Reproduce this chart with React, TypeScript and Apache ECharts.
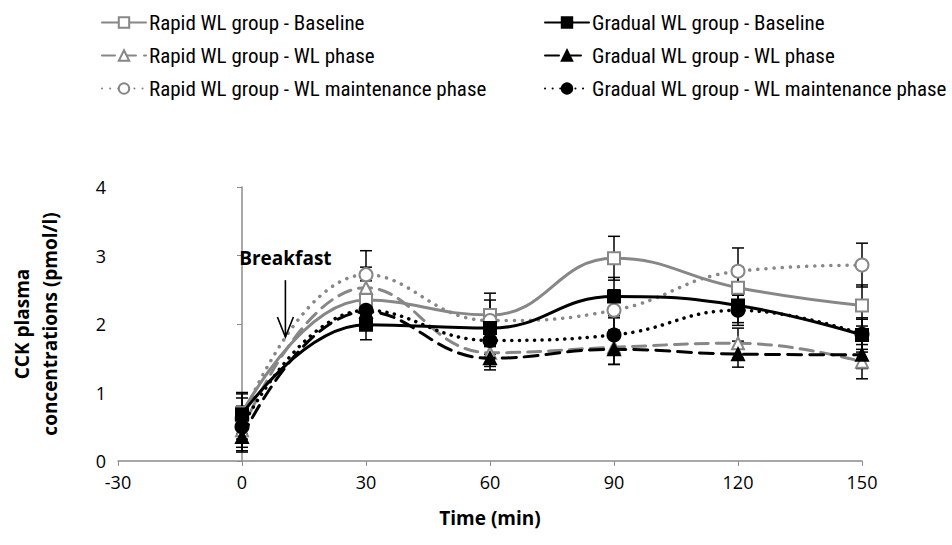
import React, { useEffect, useRef } from "react";
import * as echarts from "echarts";

const times = [0, 30, 60, 90, 120, 150];
const xTicks = [-30, 0, 30, 60, 90, 120, 150];
const yTicks = [0, 1, 2, 3, 4];

const rapidBaseline = [0.7, 2.35, 2.13, 2.96, 2.53, 2.27];
const rapidWL = [0.45, 2.53, 1.58, 1.66, 1.72, 1.45];
const rapidMaint = [0.62, 2.72, 2.05, 2.2, 2.77, 2.86];
const gradualBaseline = [0.68, 1.99, 1.94, 2.4, 2.27, 1.84];
const gradualWL = [0.35, 2.18, 1.5, 1.63, 1.56, 1.55];
const gradualMaint = [0.5, 2.2, 1.76, 1.84, 2.2, 1.85];

const errRapidBaseline = [0.3, 0.28, 0.32, 0.32, 0.3, 0.3];
const errRapidWL = [0.3, 0.3, 0.2, 0.25, 0.22, 0.25];
const errRapidMaint = [0.3, 0.35, 0.3, 0.3, 0.34, 0.32];
const errGradualBaseline = [0.3, 0.22, 0.25, 0.28, 0.25, 0.25];
const errGradualWL = [0.22, 0.25, 0.17, 0.22, 0.19, 0.2];
const errGradualMaint = [0.3, 0.25, 0.2, 0.25, 0.22, 0.22];

const seriesNames = [
  "Rapid WL group - Baseline",
  "Rapid WL group - WL phase",
  "Rapid WL group - WL maintenance phase",
  "Gradual WL group - Baseline",
  "Gradual WL group - WL phase",
  "Gradual WL group - WL maintenance phase",
];

const breakfast = { time: 10.5, label: "Breakfast", labelY: 2.96, arrowTop: 2.64, arrowBottom: 1.81 };

const GRAY = "#878787";
const BLACK = "#000000";
const FONT = "'Liberation Sans Narrow', 'Roboto Condensed', 'Liberation Sans', sans-serif";
const AXFONT = "'Open Sans', 'Noto Sans', sans-serif";

export default function App() {
  const ref = useRef<HTMLDivElement>(null);
  useEffect(() => {
    if (!ref.current) return;
    const chart = echarts.init(ref.current, undefined, { renderer: "svg" });

    const values = [rapidBaseline, rapidWL, rapidMaint, gradualBaseline, gradualWL, gradualMaint];
    const errs = [errRapidBaseline, errRapidWL, errRapidMaint, errGradualBaseline, errGradualWL, errGradualMaint];
    const errData: number[][] = [];
    values.forEach((vals, si) => {
      vals.forEach((v, i) => {
        errData.push([times[i], v - errs[si][i], v + errs[si][i]]);
      });
    });

    const styles = [
      { color: GRAY, type: "solid", symbol: "rect", fill: "#fff" },
      { color: GRAY, type: [13, 8], symbol: "triangle", fill: "#fff" },
      { color: GRAY, type: [0.1, 8], symbol: "circle", fill: "#fff" },
      { color: BLACK, type: "solid", symbol: "rect", fill: BLACK },
      { color: BLACK, type: [14, 8], symbol: "triangle", fill: BLACK },
      { color: BLACK, type: [0.1, 7.5], symbol: "circle", fill: BLACK },
    ];

    const lineSeries = values.map((vals, si) => ({
      name: seriesNames[si],
      type: "line",
      smooth: 0.45,
      data: vals.map((v, i) => [times[i], v]),
      symbol: styles[si].symbol,
      symbolSize: si === 2 || si === 5 ? 13 : 12,
      showSymbol: true,
      z: 3 + (si < 3 ? 0 : 1),
      lineStyle: {
        color: styles[si].color,
        width: si === 2 || si === 5 ? 3.5 : 3,
        type: styles[si].type as any,
        cap: "round",
      },
      itemStyle: {
        color: styles[si].fill,
        borderColor: styles[si].color,
        borderWidth: 2,
      },
    }));

    const legendCommon = {
      orient: "vertical",
      top: 7,
      itemGap: 12,
      itemWidth: 44,
      itemHeight: 13,
      textStyle: { fontFamily: FONT, fontSize: 21, color: "#000", padding: [0, 0, 0, -2] },
      selectedMode: false,
    };

    chart.setOption({
      animation: false,
      backgroundColor: "#fff",
      grid: { left: 118, right: 90, top: 187, bottom: 84 },
      legend: [
        { ...legendCommon, data: seriesNames.slice(0, 3), left: 96 },
        { ...legendCommon, data: seriesNames.slice(3), left: 539 },
      ],
      xAxis: {
        type: "value",
        min: xTicks[0],
        max: xTicks[xTicks.length - 1],
        interval: 30,
        name: "Time (min)",
        nameLocation: "middle",
        nameGap: 47,
        nameTextStyle: { fontFamily: AXFONT, fontSize: 19, fontWeight: "bold", color: "#000" },
        axisLine: { lineStyle: { color: "#8c8c8c", width: 1.5 } },
        axisTick: { show: true, length: 5, lineStyle: { color: "#8c8c8c" } },
        axisLabel: { fontFamily: AXFONT, fontSize: 18, color: "#000", margin: 12 },
        splitLine: { show: false },
      },
      yAxis: {
        type: "value",
        min: yTicks[0],
        max: yTicks[yTicks.length - 1],
        interval: 1,
        name: "CCK plasma\nconcentrations (pmol/l)",
        nameLocation: "middle",
        nameGap: 54,
        nameTextStyle: { fontFamily: AXFONT, fontSize: 19, fontWeight: "bold", color: "#000", lineHeight: 28 },
        axisLine: { show: true, lineStyle: { color: "#8c8c8c", width: 1.5 } },
        axisTick: { show: true, length: 5, lineStyle: { color: "#8c8c8c" } },
        axisLabel: { fontFamily: AXFONT, fontSize: 18, color: "#000", margin: 12 },
        splitLine: { show: false },
      },
      series: [
        {
          type: "custom",
          name: "errors",
          z: 2,
          silent: true,
          data: errData,
          encode: { x: 0, y: [1, 2] },
          renderItem: (params: any, api: any) => {
            const x = api.value(0);
            const lo = api.coord([x, api.value(1)]);
            const hi = api.coord([x, api.value(2)]);
            const hw = 6;
            const st = { stroke: "#000", lineWidth: 1.5 };
            return {
              type: "group",
              children: [
                { type: "line", shape: { x1: lo[0], y1: lo[1], x2: hi[0], y2: hi[1] }, style: st },
                { type: "line", shape: { x1: lo[0] - hw, y1: lo[1], x2: lo[0] + hw, y2: lo[1] }, style: st },
                { type: "line", shape: { x1: hi[0] - hw, y1: hi[1], x2: hi[0] + hw, y2: hi[1] }, style: st },
              ],
            };
          },
        },
        {
          type: "custom",
          name: "annotation",
          z: 10,
          silent: true,
          data: [[breakfast.time, breakfast.labelY, breakfast.arrowTop, breakfast.arrowBottom]],
          encode: { x: 0, y: [1, 2, 3] },
          renderItem: (params: any, api: any) => {
            const x = api.value(0);
            const lab = api.coord([x, api.value(1)]);
            const top = api.coord([x, api.value(2)]);
            const bot = api.coord([x, api.value(3)]);
            const st = { stroke: "#000", lineWidth: 1.6, fill: "none" };
            return {
              type: "group",
              children: [
                {
                  type: "text",
                  style: {
                    text: breakfast.label,
                    x: lab[0],
                    y: lab[1],
                    align: "center",
                    verticalAlign: "middle",
                    font: "bold 19px 'Open Sans', 'Noto Sans', sans-serif",
                    fill: "#000",
                  },
                },
                { type: "line", shape: { x1: top[0], y1: top[1], x2: bot[0], y2: bot[1] }, style: st },
                {
                  type: "polyline",
                  shape: { points: [[bot[0] - 8, bot[1] - 20], [bot[0], bot[1]], [bot[0] + 8, bot[1] - 20]] },
                  style: st,
                },
              ],
            };
          },
        },
        ...lineSeries,
      ],
    } as any);
    return () => chart.dispose();
  }, []);
  return <div ref={ref} style={{ width: 952, height: 545, position: "absolute", left: 0, top: 0 }} />;
}
